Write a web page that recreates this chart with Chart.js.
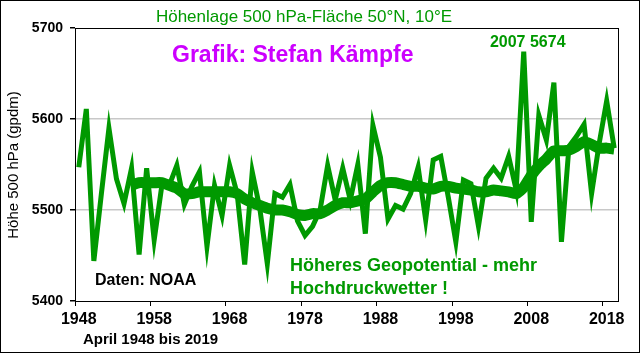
<!DOCTYPE html>
<html>
<head>
<meta charset="utf-8">
<script src="https://cdn.jsdelivr.net/npm/chart.js@4"></script>
<style>
  body { margin: 0; background: #fff; }
  #wrap { width: 640px; height: 353px; position: relative; }
</style>
</head>
<body>
<div id="wrap"><canvas id="myChart"></canvas></div>
<script>
// April 1948 - 2019, Höhe der 500 hPa-Fläche (gpdm)
const years = [];
for (let y = 1948; y <= 2019; y++) years.push(String(y));

const annual = [
  5547, 5611, 5444, 5518, 5590, 5534, 5507, 5546, 5451, 5546,
  5467, 5526, 5527, 5549, 5506, 5526, 5542, 5460, 5527, 5494,
  5549, 5518, 5440, 5542, 5502, 5441, 5518, 5514, 5528, 5488,
  5472, 5482, 5500, 5549, 5511, 5546, 5511, 5550, 5474, 5593,
  5558, 5490, 5505, 5501, 5518, 5547, 5489, 5555, 5559, 5514,
  5465, 5533, 5529, 5482, 5535, 5546, 5535, 5559, 5522, 5674,
  5487, 5604, 5577, 5640, 5465, 5570, 5581, 5594, 5518, 5573,
  5620, 5568
];

// geglättete Kurve
const smooth = [
  null, null, null, null, null, null, null, 5527, 5530, 5530,
  5530, 5530, 5527, 5524, 5518, 5518, 5520, 5520, 5520, 5520,
  5520, 5518, 5512, 5508, 5505, 5502, 5500, 5500, 5498, 5495,
  5494, 5496, 5496, 5500, 5505, 5508, 5508, 5510, 5512, 5520,
  5527, 5530, 5530, 5528, 5526, 5526, 5524, 5523, 5526, 5526,
  5524, 5523, 5522, 5520, 5520, 5522, 5521, 5520, 5518, 5525,
  5538, 5548, 5556, 5565, 5565, 5566, 5570, 5575, 5572, 5568,
  5568, 5567
];

const yTicks = [5400, 5500, 5600, 5700];
const xTickEvery = 10;
const peakYear = '2007';

const green = '#009900';
const magenta = '#cc00ff';

function put(ctx, text, x, y, font, color, align) {
  ctx.font = font;
  ctx.fillStyle = color;
  ctx.textAlign = align || 'left';
  ctx.textBaseline = 'middle';
  ctx.fillText(text, x, y);
}

const textPlugin = {
  id: 'texts',
  afterDraw(chart) {
    const ctx = chart.ctx;
    const a = chart.chartArea;
    ctx.save();
    // Rahmen Plotfläche
    ctx.strokeStyle = '#000';
    ctx.lineWidth = 1;
    ctx.strokeRect(a.left + 0.5, a.top + 0.5, a.right - a.left, a.bottom - a.top);
    // Rahmen außen
    ctx.strokeRect(0.5, 0.5, chart.width - 1, chart.height - 1);

    put(ctx, 'Höhenlage 500 hPa-Fläche 50°N, 10°E', 304, 17, '17px "Liberation Sans"', green, 'center');
    put(ctx, 'Grafik: Stefan Kämpfe', 172, 56, 'bold 23px "Liberation Sans"', magenta);

    const i = years.indexOf(peakYear);
    const px = chart.scales.x.getPixelForValue(i);
    put(ctx, peakYear + ' ' + annual[i], px + 4, 43, 'bold 16px "Liberation Sans"', green, 'center');

    put(ctx, 'Daten: NOAA', 95, 281, 'bold 16px "Liberation Sans"', '#000');
    put(ctx, 'Höheres Geopotential - mehr', 290, 266, 'bold 18px "Liberation Sans"', green);
    put(ctx, 'Hochdruckwetter !', 290, 289, 'bold 18px "Liberation Sans"', green);
    put(ctx, 'April 1948 bis 2019', 83, 340, 'bold 15px "Liberation Sans"', '#000');

    ctx.translate(14, 165);
    ctx.rotate(-Math.PI / 2);
    put(ctx, 'Höhe 500 hPa (gpdm)', 0, 0, '15px "Liberation Sans"', '#000', 'center');
    ctx.restore();
  }
};

new Chart('myChart', {
  type: 'line',
  data: {
    labels: years,
    datasets: [{
      label: 'Jahreswerte',
      data: annual,
      borderColor: green,
      borderWidth: 5,
      pointRadius: 0,
      tension: 0
    }, {
      label: 'geglättet',
      data: smooth,
      borderColor: green,
      borderWidth: 11,
      pointRadius: 0,
      tension: 0.2
    }]
  },
  options: {
    responsive: true,
    maintainAspectRatio: false,
    animation: false,
    layout: { padding: { left: 0, top: 28, right: 22, bottom: 0 } },
    plugins: { legend: { display: false }, tooltip: { enabled: false } },
    scales: {
      x: {
        type: 'category',
        offset: true,
        grid: {
          offset: true,
          drawOnChartArea: false,
          tickLength: 5,
          tickColor: c => (c.index % xTickEvery === 0 ? '#000' : 'transparent')
        },
        border: { color: '#000' },
        ticks: {
          autoSkip: false,
          maxRotation: 0,
          padding: 4,
          color: '#000',
          font: { family: 'Liberation Sans', size: 16, weight: 'bold' },
          callback: (v, i) => (i % xTickEvery === 0 ? years[i] : '')
        },
        afterFit(s) { s.height = 52; }
      },
      y: {
        min: yTicks[0],
        max: yTicks[yTicks.length - 1],
        afterBuildTicks(s) { s.ticks = yTicks.map(v => ({ value: v })); },
        grid: {
          color: c => (c.tick && (c.tick.value === 5500 || c.tick.value === 5600) ? '#c8c8c8' : 'transparent'),
          lineWidth: 1.5,
          tickColor: '#000',
          tickLength: 5
        },
        border: { color: '#000' },
        ticks: {
          padding: 7,
          color: '#000',
          font: { family: 'Liberation Sans', size: 14, weight: 'bold' },
          callback: v => String(v)
        },
        afterFit(s) { s.width = 75; }
      }
    }
  },
  plugins: [textPlugin]
});
</script>
</body>
</html>
